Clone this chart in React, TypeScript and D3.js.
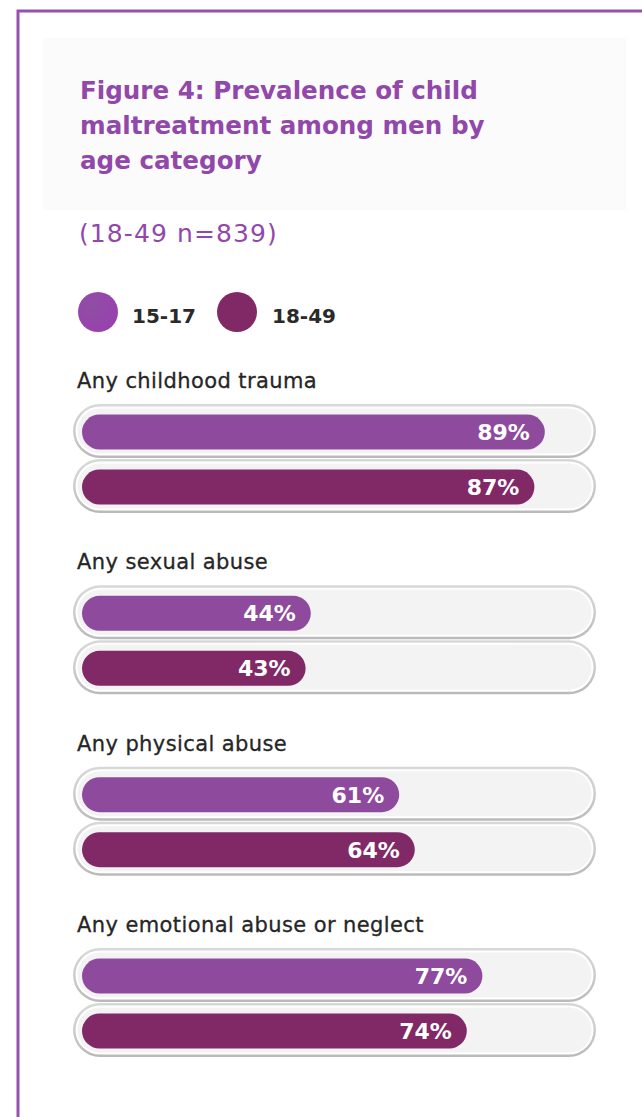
import React from "react";
import * as d3 from "d3";

const categories = [
  "Any childhood trauma",
  "Any sexual abuse",
  "Any physical abuse",
  "Any emotional abuse or neglect",
];
const seriesNames = ["15-17", "18-49"];
const values1517 = [89, 44, 61, 77];
const values1849 = [87, 43, 64, 74];
const titleLines = [
  "Figure 4: Prevalence of child",
  "maltreatment among men by",
  "age category",
];
const subtitle = "(18-49 n=839)";
const colors = ["#8e4a9d", "#812866"];

const W = 642;
const H = 1117;

export default function App() {
  const x = d3.scaleLinear().domain([0, 100]).range([82, 602]);
  const groupY = d3
    .scalePoint<string>()
    .domain(categories)
    .range([404, 948]);
  const trackX0 = 73;
  const trackX1 = 596;
  const trackH = 54;
  const fillH = 35;
  const series = [values1517, values1849];
  const font = "'DejaVu Sans', 'Open Sans', sans-serif";

  return (
    <svg
      width={W}
      height={H}
      style={{ position: "absolute", left: 0, top: 0, display: "block" }}
      fontFamily={font}
    >
      <defs>
        <linearGradient id="trackG" x1="0" y1="0" x2="0" y2="1">
          <stop offset="0" stopColor="#d8d8d8" />
          <stop offset="0.5" stopColor="#cdcdcd" />
          <stop offset="1" stopColor="#b9b9b9" />
        </linearGradient>
        <radialGradient id="leg0" cx="0.35" cy="0.35" r="0.8">
          <stop offset="0" stopColor="#8f4fa3" />
          <stop offset="1" stopColor="#9a3fb0" />
        </radialGradient>
      </defs>
      <rect x={0} y={0} width={W} height={H} fill="#ffffff" />
      <rect x={43} y={38} width={583} height={172} fill="#fbfbfb" />
      <path
        d={`M18,${H} L18,11 L${W},11`}
        fill="none"
        stroke="#9553ad"
        strokeWidth={3}
      />
      {titleLines.map((t, i) => (
        <text
          key={t}
          x={80}
          y={99 + i * 35}
          fill="#9247aa"
          fontSize={24.6}
          fontWeight={700}
        >
          {t}
        </text>
      ))}
      <text x={79} y={242} fill="#9247aa" fontSize={25} letterSpacing={1.1}>
        {subtitle}
      </text>
      {seriesNames.map((s, i) => (
        <g key={s}>
          <circle
            cx={98 + i * 139}
            cy={312}
            r={20}
            fill={i === 0 ? "url(#leg0)" : colors[1]}
          />
          <text
            x={132 + i * 140}
            y={323}
            fontSize={20}
            fontWeight={700}
            fill="#2a2a2a"
          >
            {s}
          </text>
        </g>
      ))}
      {categories.map((c, gi) => {
        const top = groupY(c) as number;
        return (
          <g key={c}>
            <text
              x={77}
              y={top - 16}
              fontSize={21}
              letterSpacing={0.4}
              fill="#262626"
              stroke="#262626"
              strokeWidth={0.3}
            >
              {c}
            </text>
            {series.map((vals, si) => {
              const ty = top + si * (trackH + 1);
              const v = vals[gi];
              const fy = ty + (trackH - fillH) / 2 + 1;
              return (
                <g key={si}>
                  <rect
                    x={trackX0}
                    y={ty}
                    width={trackX1 - trackX0}
                    height={trackH}
                    rx={trackH / 2}
                    fill="url(#trackG)"
                  />
                  <rect
                    x={trackX0 + 2.5}
                    y={ty + 2.5}
                    width={trackX1 - trackX0 - 5}
                    height={trackH - 5}
                    rx={(trackH - 5) / 2}
                    fill="#ffffff"
                  />
                  <rect
                    x={trackX0 + 4.5}
                    y={ty + 4.5}
                    width={trackX1 - trackX0 - 9}
                    height={trackH - 9}
                    rx={(trackH - 9) / 2}
                    fill="#f3f3f3"
                  />
                  <rect
                    x={x(0)}
                    y={fy}
                    width={x(v) - x(0)}
                    height={fillH}
                    rx={fillH / 2}
                    fill={colors[si]}
                  />
                  <text
                    x={x(v) - 15}
                    y={fy + fillH / 2 + 8}
                    textAnchor="end"
                    fontSize={22}
                    fontWeight={700}
                    fill="#ffffff"
                  >
                    {v}%
                  </text>
                </g>
              );
            })}
          </g>
        );
      })}
    </svg>
  );
}
